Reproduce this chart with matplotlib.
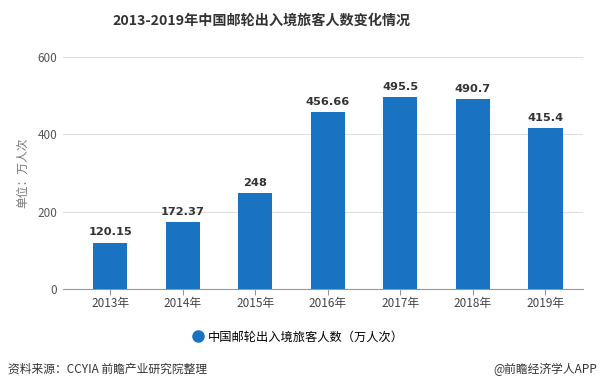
import matplotlib
matplotlib.use("Agg")
import matplotlib.pyplot as plt
from matplotlib.lines import Line2D

plt.rcParams['font.family'] = ['Noto Sans CJK SC', 'DejaVu Sans']

years = ["2013年", "2014年", "2015年", "2016年", "2017年", "2018年", "2019年"]
values = [120.15, 172.37, 248, 456.66, 495.5, 490.7, 415.4]
value_labels = ["120.15", "172.37", "248", "456.66", "495.5", "490.7", "415.4"]
yticks = [0, 200, 400, 600]

title = "2013-2019年中国邮轮出入境旅客人数变化情况"
series_name = "中国邮轮出入境旅客人数（万人次）"
ylabel = "单位：万人次"
source = "资料来源：CCYIA 前瞻产业研究院整理"
credit = "@前瞻经济学人APP"

bar_color = "#1a73c2"

fig = plt.figure(figsize=(6, 3.91), dpi=100)
ax = fig.add_axes([0.105, 0.261, 0.867, 0.593])

x = list(range(len(years)))
ax.bar(x, values, width=0.47, color=bar_color, zorder=3)
for xi, v, lab in zip(x, values, value_labels):
    ax.text(xi, v + 14, lab, ha='center', va='bottom', fontsize=8.2,
            fontweight='bold', color='#333333', family=['DejaVu Sans'])

ax.set_xlim(-0.65, 6.52)
ax.set_ylim(0, 600)
ax.set_yticks(yticks)
ax.set_xticks(x)
ax.set_xticklabels(years)
ax.grid(axis='y', color='#dddddd', linewidth=0.8, zorder=0)
for s in ['top', 'right', 'left']:
    ax.spines[s].set_visible(False)
ax.spines['bottom'].set_color('#999999')
ax.spines['bottom'].set_linewidth(0.8)
ax.tick_params(axis='y', length=0, labelsize=8.5, labelcolor='#555555', pad=4)
ax.tick_params(axis='x', length=4, color='#999999', labelsize=8.5, labelcolor='#444444', pad=2)
ax.set_ylabel(ylabel, fontsize=8.5, color='#777777', labelpad=6)

fig.text(262 / 600, 1 - 21 / 391, title, ha='center', va='center', fontsize=10.2,
         fontweight='bold', color='#333333')

handle = Line2D([], [], marker='o', linestyle='none', markersize=8,
                markerfacecolor=bar_color, markeredgecolor=bar_color)
fig.legend([handle], [series_name], loc='center', bbox_to_anchor=(0.497, 1 - 337 / 391),
           frameon=False, fontsize=8.8, handletextpad=0.3, handlelength=1.0)

fig.text(0.013, 1 - 369 / 391, source, ha='left', va='center', fontsize=8.5, color='#333333')
fig.text(0.995, 1 - 369 / 391, credit, ha='right', va='center', fontsize=8.5, color='#333333')

fig.savefig("out.png", dpi=100)
